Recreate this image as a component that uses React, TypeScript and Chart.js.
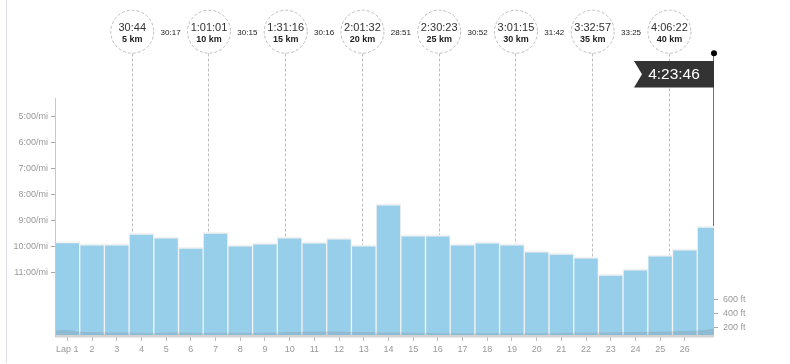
import React, { useEffect, useRef } from 'react';
import { Chart, registerables } from 'chart.js';

Chart.register(...registerables);

// ---- data ----
const lapLabels = ['Lap 1', '2', '3', '4', '5', '6', '7', '8', '9', '10', '11', '12', '13', '14', '15', '16', '17', '18', '19', '20', '21', '22', '23', '24', '25', '26'];
// pace per lap in minutes per mile (27th = final partial lap)
const lapPaces = [9.8, 9.89, 9.89, 9.47, 9.62, 10.01, 9.43, 9.93, 9.85, 9.62, 9.81, 9.66, 9.93, 8.35, 9.54, 9.54, 9.89, 9.81, 9.89, 10.16, 10.24, 10.39, 11.05, 10.85, 10.31, 10.08, 9.2];
const totalMiles = 26.68;
const elevMiles = [0, 0.5, 1, 2, 3, 4, 5, 6, 7, 8, 9, 10, 11, 12, 13, 14, 15, 16, 17, 18, 19, 20, 21, 22, 23, 24, 25, 26, 26.68];
const elevFeet = [160, 165, 140, 130, 128, 125, 130, 125, 128, 125, 130, 140, 145, 140, 130, 128, 125, 122, 122, 122, 122, 122, 126, 130, 135, 140, 150, 160, 185];
const paceTicks = [5, 6, 7, 8, 9, 10, 11];
const elevTicks = [200, 400, 600];
const kmMarks = [5, 10, 15, 20, 25, 30, 35, 40];
const kmTimes = ['30:44', '1:01:01', '1:31:16', '2:01:32', '2:30:23', '3:01:15', '3:32:57', '4:06:22'];
const splitTimes = ['30:17', '30:15', '30:16', '28:51', '30:52', '31:42', '33:25'];
const finishTime = '4:23:46';

const FONT = "'Liberation Sans', Arial, sans-serif";
const PACE_BOTTOM = 13.439;
const PACE_TOP = 4.268;

const fmtPace = (v: number) => `${Math.floor(v)}:${String(Math.round((v % 1) * 60)).padStart(2, '0')}/mi`;

const overlayPlugin = {
  id: 'overlay',
  beforeDatasetsDraw(chart: any) {
    const { ctx, chartArea } = chart;
    const xs = chart.scales.x;
    ctx.save();
    ctx.strokeStyle = '#bdbdbd';
    ctx.lineWidth = 1;
    ctx.setLineDash([3, 2]);
    kmMarks.forEach((km) => {
      const x = Math.round(xs.getPixelForValue(km * 0.621371)) + 0.5;
      ctx.beginPath();
      ctx.moveTo(x, 53.5);
      ctx.lineTo(x, chartArea.bottom);
      ctx.stroke();
    });
    ctx.setLineDash([]);
    // flag pole
    const fx = Math.round(xs.getPixelForValue(totalMiles)) - 0.5;
    ctx.strokeStyle = '#707070';
    ctx.beginPath();
    ctx.moveTo(fx, 53);
    ctx.lineTo(fx, chartArea.bottom);
    ctx.stroke();
    ctx.restore();
  },
  afterDraw(chart: any) {
    const { ctx, chartArea } = chart;
    const xs = chart.scales.x;
    ctx.save();
    // faint left border line
    ctx.strokeStyle = '#dcdce6';
    ctx.lineWidth = 1;
    ctx.beginPath();
    ctx.moveTo(6.5, 0);
    ctx.lineTo(6.5, 363);
    ctx.stroke();
    // bottom axis band
    ctx.fillStyle = '#d3d3d3';
    ctx.fillRect(chartArea.left, chartArea.bottom - 1, chartArea.right - chartArea.left, 2.5);
    // left axis line
    ctx.strokeStyle = '#c8c8c8';
    ctx.beginPath();
    ctx.moveTo(chartArea.left + 0.5, chartArea.top);
    ctx.lineTo(chartArea.left + 0.5, chartArea.bottom + 1);
    ctx.stroke();

    // km circles
    const cy = 31.7;
    const xsKm = kmMarks.map((km) => xs.getPixelForValue(km * 0.621371));
    xsKm.forEach((x, i) => {
      ctx.strokeStyle = '#bdbdbd';
      ctx.setLineDash([3, 2]);
      ctx.lineWidth = 1;
      ctx.beginPath();
      ctx.arc(x + 0.5, cy, 21.5, 0, Math.PI * 2);
      ctx.stroke();
      ctx.setLineDash([]);
      ctx.textAlign = 'center';
      ctx.textBaseline = 'middle';
      ctx.fillStyle = '#333';
      ctx.font = `11px ${FONT}`;
      ctx.fillText(kmTimes[i], x + 0.5, cy - 3.5);
      ctx.fillStyle = '#222';
      ctx.font = `bold 9px ${FONT}`;
      ctx.fillText(`${kmMarks[i]} km`, x + 0.5, cy + 7.5);
    });
    // split times
    ctx.font = `8px ${FONT}`;
    ctx.fillStyle = '#222';
    splitTimes.forEach((s, i) => {
      const x = (xsKm[i] + xsKm[i + 1]) / 2 + 0.5;
      ctx.fillText(s, x, 33);
    });

    // finish flag
    const fx = Math.round(xs.getPixelForValue(totalMiles));
    ctx.fillStyle = '#333';
    ctx.beginPath();
    ctx.moveTo(fx - 80, 61);
    ctx.lineTo(fx, 61);
    ctx.lineTo(fx, 87.5);
    ctx.lineTo(fx - 80, 87.5);
    ctx.lineTo(fx - 72, 74.2);
    ctx.closePath();
    ctx.fill();
    ctx.fillStyle = '#fff';
    ctx.font = `15.5px ${FONT}`;
    ctx.textAlign = 'center';
    ctx.textBaseline = 'middle';
    ctx.fillText(finishTime, fx - 40, 74.5);
    // dot
    ctx.fillStyle = '#000';
    ctx.beginPath();
    ctx.arc(fx, 53.3, 3, 0, Math.PI * 2);
    ctx.fill();
    ctx.restore();
  },
};

export default function App() {
  const ref = useRef<HTMLCanvasElement | null>(null);

  useEffect(() => {
    document.body.style.margin = '0';
    const canvas = ref.current;
    if (!canvas) return;
    const barData = lapPaces.map((p, i) => ({ x: i + 0.5, y: [PACE_BOTTOM, p] }));
    const elevData = elevMiles.map((m, i) => ({ x: m, y: elevFeet[i] }));
    const chart = new Chart(canvas, {
      type: 'bar',
      data: {
        datasets: [
          {
            type: 'line',
            data: elevData as any,
            xAxisID: 'x',
            yAxisID: 'yElev',
            borderWidth: 0,
            pointRadius: 0,
            fill: 'start',
            backgroundColor: 'rgba(110,110,110,0.2)',
            tension: 0.3,
            order: 0,
          } as any,
          {
            type: 'bar',
            data: barData as any,
            xAxisID: 'x',
            yAxisID: 'y',
            backgroundColor: '#97cfeb',
            borderColor: '#f2f2f2',
            borderWidth: { top: 2, left: 1, right: 1, bottom: 0 },
            borderSkipped: false,
            barPercentage: 1,
            categoryPercentage: 1,
            clip: 0,
            order: 1,
          } as any,
        ],
      },
      options: {
        responsive: false,
        animation: false,
        layout: { padding: { top: 98, left: 0, right: 0, bottom: 0 } },
        plugins: { legend: { display: false }, tooltip: { enabled: false } },
        scales: {
          x: {
            type: 'linear',
            min: 0,
            max: totalMiles,
            offset: false,
            afterBuildTicks: (s: any) => {
              s.ticks = lapLabels.map((_, i) => ({ value: i + 0.5 }));
            },
            afterFit: (s: any) => {
              s.height = 28;
            },
            ticks: {
              autoSkip: false,
              maxRotation: 0,
              padding: 3,
              color: '#999',
              font: { family: FONT, size: 9 },
              callback: (_v: any, i: number) => lapLabels[i],
            },
            grid: { drawOnChartArea: false, tickLength: 5, color: '#bbb', offset: false },
            border: { display: false },
          },
          y: {
            type: 'linear',
            position: 'left',
            reverse: true,
            min: PACE_TOP,
            max: PACE_BOTTOM,
            afterBuildTicks: (s: any) => {
              s.ticks = paceTicks.map((v) => ({ value: v }));
            },
            afterFit: (s: any) => {
              s.width = 55;
            },
            ticks: {
              padding: 3,
              color: '#999',
              font: { family: FONT, size: 9 },
              callback: (v: any) => fmtPace(Number(v)),
            },
            grid: { drawOnChartArea: false, tickLength: 4, color: '#aaa' },
            border: { display: false },
          },
          yElev: {
            type: 'linear',
            position: 'right',
            min: 81,
            max: 3481,
            afterBuildTicks: (s: any) => {
              s.ticks = elevTicks.map((v) => ({ value: v }));
            },
            afterFit: (s: any) => {
              s.width = 76;
            },
            ticks: {
              padding: 5,
              color: '#999',
              font: { family: FONT, size: 9 },
              callback: (v: any) => `${v} ft`,
            },
            grid: { drawOnChartArea: false, tickLength: 4, color: '#aaa' },
            border: { display: false },
          },
        },
      },
      plugins: [overlayPlugin],
    });
    return () => chart.destroy();
  }, []);

  return (
    <div style={{ position: 'fixed', left: 0, top: 0 }}>
      <canvas ref={ref} width={790} height={364} style={{ display: 'block' }} />
    </div>
  );
}
